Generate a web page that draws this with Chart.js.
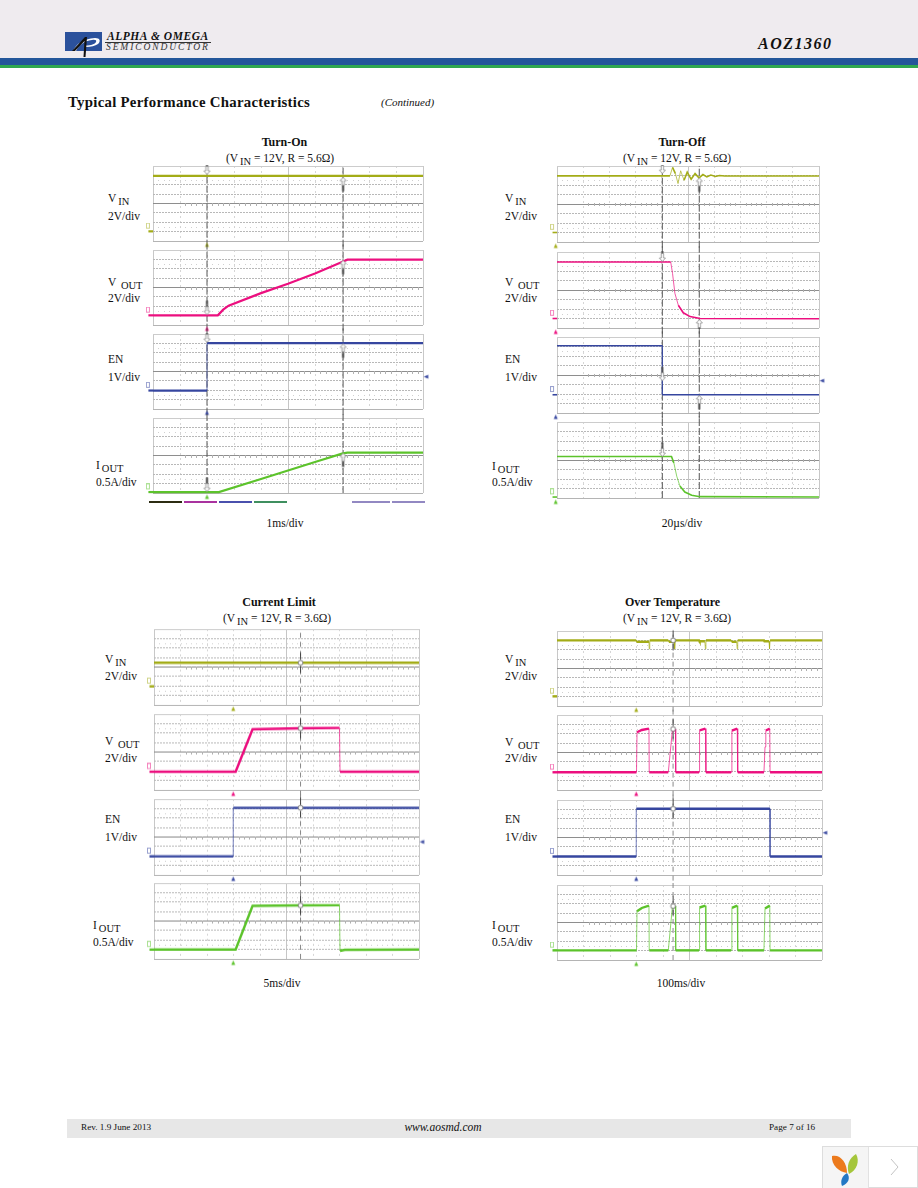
<!DOCTYPE html>
<html>
<head>
<meta charset="utf-8">
<title>AOZ1360 Typical Performance Characteristics</title>
<script src="https://cdn.jsdelivr.net/npm/chart.js@4"></script>
<style>
html, body { margin: 0; padding: 0; background: #fff; }
#page { position: relative; width: 918px; height: 1188px; overflow: hidden; font-family: "Liberation Serif", serif; color: #111; }
#page canvas { position: absolute; }
.band { position: absolute; }
.t { position: absolute; white-space: nowrap; line-height: 1; font-size: 11.5px; margin-top: 1px; transform: translateY(-50%); }
.c { transform: translate(-50%, -50%); }
.t sub { font-size: 10.5px; line-height: 0; vertical-align: baseline; position: relative; top: 3px; margin-left: 2px; }
</style>
</head>
<body>
<div id="page">
  <div class="band" style="left:0;top:0;width:918px;height:58px;background:#efebef"></div>
  <div class="band" style="left:0;top:58px;width:918px;height:7px;background:#23569a"></div>
  <div class="band" style="left:0;top:65px;width:918px;height:3px;background:#2fa84f"></div>

  <svg class="band" style="left:65px;top:32px" width="38" height="25" viewBox="0 0 38 25">
    <rect x="0" y="0" width="37" height="19" fill="#2b519c"/>
    <path d="M8 19 C11 12 18 7 30 6 C35 6 36 9 33 12 C30 14 26 15 21 15 L21 13.5 C26 13.5 30 12 31 10 C32 8 30 7.5 27 8 C19 9 14 13 11 19 Z" fill="#fff"/>
    <path d="M7 19 L20 5 L22 5 L20.5 25 L18.5 25 L19.5 9 L10 19 Z" fill="#111"/>
  </svg>
  <div class="band" style="left:105px;top:42px;width:106px;height:1px;background:#333"></div>

  <div class="band" style="left:67px;top:1119px;width:784px;height:19px;background:#e7e7e7"></div>

  <div class="band" style="left:822px;top:1146px;width:96px;height:42px;background:#fff;border:1px solid #ddd;box-sizing:border-box"></div>
  <div class="band" style="left:823px;top:1147px;width:45px;height:41px;background:#f5f5f5;border-right:1px solid #e2e2e2"></div>
  <svg class="band" style="left:830px;top:1153px" width="32" height="34" viewBox="0 0 32 34">
    <path d="M2 3 C10 1 17 9 17 20 C9 19 1 12 2 3 Z" fill="#ec7a1c"/>
    <path d="M26 1 C30 8 27 17 19 21 C16 13 19 5 26 1 Z" fill="#a5c63b"/>
    <path d="M17 20 C21 25 18 31 12 33 C10 28 12 23 17 20 Z" fill="#2378c4"/>
  </svg>
  <svg class="band" style="left:889px;top:1158px" width="12" height="18" viewBox="0 0 12 18">
    <path d="M2 1 L9 9 L2 17" fill="none" stroke="#c4c4c4" stroke-width="1"/>
  </svg>
</div>

<script>
Chart.defaults.animation = false;

// ---------- trace values, [x, y] read in scope divisions (x 0-10, y 0-8 from the bottom) ----------

// Turn-On
const turnOnVin = [[0, 6.95], [10, 6.95]];
const turnOnVout = [[0, 1.03], [2.4, 1.03], [2.6, 1.64], [2.8, 2.06], [4, 3.4], [5, 4.4], [6, 5.5], [7, 6.72], [7.2, 6.97], [10, 6.97]];
const turnOnEn = [[0, 1.97], [2, 1.97], [2, 7.03], [10, 7.03]];
const turnOnIout = [[0, 0.1], [2.44, 0.1], [4, 1.5], [5, 2.4], [6, 3.3], [7, 4.2], [7.2, 4.3], [10, 4.3]];

// Turn-Off
const turnOffVin = [[0, 6.96], [4.31, 6.96], [4.41, 7.85], [4.52, 7.2], [4.62, 6.15], [4.72, 7.5], [4.85, 6.5], [4.97, 7.35], [5.12, 6.6], [5.27, 7.2], [5.42, 6.75], [5.57, 7.1], [5.72, 6.85], [5.87, 7.05], [6.05, 6.9], [6.2, 7], [6.4, 6.95], [10, 6.95]];
const turnOffVout = [[0, 6.95], [4.34, 6.95], [4.41, 5.75], [4.5, 3.65], [4.63, 2.4], [4.82, 1.6], [5.08, 1.2], [5.46, 1], [10, 0.98]];
const turnOffEn = [[0, 7.08], [4.02, 7.08], [4.02, 1.92], [10, 1.92]];
const turnOffIout = [[0, 4.37], [4.37, 4.37], [4.46, 3.7], [4.57, 2.3], [4.69, 1.26], [4.88, 0.63], [5.14, 0.28], [5.46, 0.14], [10, 0.1]];

// Current Limit
const limitVin = [[0, 4.45], [10, 4.45]];
const limitVout = [[0, 1.92], [3.08, 1.92], [3.72, 6.4], [5.53, 6.5], [7, 6.55], [7.02, 1.92], [10, 1.92]];
const limitEn = [[0, 1.96], [2.99, 1.96], [2.99, 7.08], [10, 7.08]];
const limitIout = [[0, 0.98], [3.08, 0.98], [3.72, 5.6], [5.53, 5.65], [7, 5.67], [7.02, 0.85], [7.2, 0.96], [10, 0.98]];

// Over Temperature
const overVin = [[0, 7], [2.99, 7], [3, 6.85], [3.47, 6.85], [3.48, 6.1], [3.5, 7], [4.2, 7], [4.22, 6.85], [4.42, 6.85], [4.44, 6.1], [4.46, 7], [5.36, 7], [5.38, 6.9], [5.58, 6.9], [5.6, 6.1], [5.62, 7], [6.57, 7], [6.59, 6.85], [6.78, 6.85], [6.8, 6.1], [6.82, 7], [7.81, 7], [7.83, 6.9], [8, 6.9], [8.02, 6.1], [8.04, 7], [10, 7]];
const overVout = [[0, 1.89], [3, 1.89], [3.02, 6.16], [3.2, 6.4], [3.47, 6.55], [3.48, 1.89], [4.2, 1.89], [4.35, 6.26], [4.47, 6.5], [4.48, 1.89], [5.36, 1.89], [5.38, 6.37], [5.6, 6.55], [5.62, 1.89], [6.57, 1.89], [6.6, 6.33], [6.8, 6.55], [6.82, 1.89], [7.81, 1.89], [7.85, 4.6], [7.88, 6.35], [8.03, 6.55], [8.04, 1.89], [10, 1.89]];
const overEn = [[0, 1.97], [2.99, 1.97], [2.99, 7.06], [8.04, 7.06], [8.04, 1.97], [10, 1.97]];
const overIout = [[0, 1.03], [3, 1.03], [3.02, 5.2], [3.2, 5.55], [3.47, 5.8], [3.48, 1.03], [4.2, 1.03], [4.35, 5.55], [4.47, 5.75], [4.48, 1.03], [5.36, 1.03], [5.38, 5.6], [5.6, 5.8], [5.62, 1.03], [6.57, 1.03], [6.6, 5.55], [6.8, 5.8], [6.82, 1.03], [7.81, 1.03], [7.85, 5.5], [8.03, 5.8], [8.04, 1.03], [10, 1.03]];

// cursor columns, in divisions
const turnOnCursors = [2, 7.04];
const turnOffCursors = [4.02, 5.43];
const limitCursors = [5.53];
const overCursors = [4.38];

// cursor readouts: [up arrows, down arrows, rings] on each trace
const turnOnVinMarks = [[[7.04, 6.8]], [[2, 7.1]], []];
const turnOnVoutMarks = [[[7.04, 6.9]], [[2, 1.1]], []];
const turnOnEnMarks = [[[7.04, 6.95]], [[2, 7.1]], []];
const turnOnIoutMarks = [[[7.04, 4.25]], [[2, 0.15]], []];
const turnOffVinMarks = [[[5.43, 6.75]], [[4.02, 7.2]], []];
const turnOffVoutMarks = [[[5.43, 0.9]], [[4.02, 7]], []];
const turnOffEnMarks = [[[5.43, 1.85]], [[4.02, 3.4]], []];
const turnOffIoutMarks = [[], [[4.02, 4.37]], []];
const limitVinMarks = [[], [], [[5.53, 4.45]]];
const limitVoutMarks = [[], [], [[5.53, 6.5]]];
const limitEnMarks = [[], [], [[5.53, 7.08]]];
const limitIoutMarks = [[], [], [[5.53, 5.65]]];
const overVinMarks = [[], [], [[4.38, 7]]];
const overVoutMarks = [[], [], [[4.38, 6.5]]];
const overEnMarks = [[], [], [[4.38, 7.06]]];
const overIoutMarks = [[], [], [[4.38, 5.75]]];

// ---------- styles and where each screen goes ----------

const VIN_COLOR = '#a3ac17', VOUT_COLOR = '#ec0f7f', EN_COLOR = '#36469f', IOUT_COLOR = '#5cc32b';
const PAD = { left: 18, right: 10, top: 10, bottom: 10 };

const turnOnBox = { left: 153, right: 423, tops: [166, 250, 334, 418], h: 75, line: 2.2, cursor: '#555', dash: [7, 2], trig: 2 };
const turnOffBox = { left: 557, right: 819, tops: [166, 252, 337, 422], h: 76, line: 1.6, cursor: '#555', dash: [7, 2], trig: -0.05 };
const limitBox = { left: 154, right: 419, tops: [629, 714, 799, 883], h: 75.5, line: 2.4, cursor: '#888', dash: [5, 4], trig: 2.99 };
const overBox = { left: 557, right: 822, tops: [631, 715, 800, 885], h: 75, line: 2.4, cursor: '#888', dash: [5, 4], trig: 2.99 };

// screens: box, slot, trace, colour, ground level, marks, right marker level, cursors
const screens = [
  [turnOnBox, 0, turnOnVin, VIN_COLOR, 1.03, turnOnVinMarks, null, turnOnCursors],
  [turnOnBox, 1, turnOnVout, VOUT_COLOR, 1.03, turnOnVoutMarks, null, turnOnCursors],
  [turnOnBox, 2, turnOnEn, EN_COLOR, 1.97, turnOnEnMarks, 3.44, turnOnCursors],
  [turnOnBox, 3, turnOnIout, IOUT_COLOR, 0.1, turnOnIoutMarks, null, turnOnCursors],
  [turnOffBox, 0, turnOffVin, VIN_COLOR, 1, turnOffVinMarks, null, turnOffCursors],
  [turnOffBox, 1, turnOffVout, VOUT_COLOR, 1, turnOffVoutMarks, null, turnOffCursors],
  [turnOffBox, 2, turnOffEn, EN_COLOR, 1.92, turnOffEnMarks, 3.4, turnOffCursors],
  [turnOffBox, 3, turnOffIout, IOUT_COLOR, 0.1, turnOffIoutMarks, null, turnOffCursors],
  [limitBox, 0, limitVin, VIN_COLOR, 1.96, limitVinMarks, null, limitCursors],
  [limitBox, 1, limitVout, VOUT_COLOR, 1.92, limitVoutMarks, null, limitCursors],
  [limitBox, 2, limitEn, EN_COLOR, 1.96, limitEnMarks, 3.49, limitCursors],
  [limitBox, 3, limitIout, IOUT_COLOR, 0.98, limitIoutMarks, null, limitCursors],
  [overBox, 0, overVin, VIN_COLOR, 1.03, overVinMarks, null, overCursors],
  [overBox, 1, overVout, VOUT_COLOR, 1.89, overVoutMarks, null, overCursors],
  [overBox, 2, overEn, EN_COLOR, 1.97, overEnMarks, 4.5, overCursors],
  [overBox, 3, overIout, IOUT_COLOR, 1.03, overIoutMarks, null, overCursors]
];

// ---------- page text ----------

const IN = 'V<sub>IN</sub>', OUT = 'V<sub>&nbsp;OUT</sub>', I_OUT = 'I<sub>OUT</sub>';
const pageTexts = [
  // x, y, html, css, centred
  [68, 101, 'Typical Performance Characteristics', 'font-size:15px;letter-spacing:0.28px;font-weight:bold;transform:translateY(-50%) scaleX(0.987);transform-origin:left'],
  [381, 101, '(Continued)', 'font-size:11px;font-style:italic'],
  [758, 43, 'AOZ1360', 'font-size:16px;font-weight:bold;font-style:italic;letter-spacing:1.5px'],
  [107, 36, 'ALPHA &amp; OMEGA', 'font-size:11.5px;font-weight:bold;font-style:italic;letter-spacing:0.55px'],
  [106, 47, 'SEMICONDUCTOR', 'font-size:9.5px;font-style:italic;letter-spacing:1.9px;color:#333'],
  [81, 1127, 'Rev. 1.9 June 2013', 'font-size:9.2px'],
  [443, 1127, 'www.aosmd.com', 'font-size:11.5px;font-style:italic', true],
  [769, 1127, 'Page 7 of 16', 'font-size:9.2px'],

  [284.5, 141, 'Turn-On', 'font-weight:bold;font-size:12px', true],
  [280, 158, '(V<sub>IN</sub> = 12V, R = 5.6&#937;)', '', true],
  [682, 141, 'Turn-Off', 'font-weight:bold;font-size:12px', true],
  [677, 158, '(V<sub>IN</sub> = 12V, R = 5.6&#937;)', '', true],
  [279, 601, 'Current Limit', 'font-weight:bold;font-size:12px', true],
  [277, 618, '(V<sub>IN</sub> = 12V, R = 3.6&#937;)', '', true],
  [672.5, 601, 'Over Temperature', 'font-weight:bold;font-size:12px', true],
  [677, 618, '(V<sub>IN</sub> = 12V, R = 3.6&#937;)', '', true],

  [108, 198, IN], [108, 216, '2V/div'], [108, 282, OUT], [108, 298, '2V/div'],
  [108, 359, 'EN'], [108, 377, '1V/div'], [96, 465, I_OUT], [96, 482, '0.5A/div'],
  [285, 523, '1ms/div', '', true],

  [505, 198, IN], [505, 216, '2V/div'], [505, 282, OUT], [505, 298, '2V/div'],
  [505, 359, 'EN'], [505, 377, '1V/div'], [492, 466, I_OUT], [492, 482, '0.5A/div'],
  [682, 523, '20&micro;s/div', '', true],

  [105, 659, IN], [105, 676, '2V/div'], [105, 741, OUT], [105, 758, '2V/div'],
  [105, 819, 'EN'], [105, 837, '1V/div'], [93, 925, I_OUT], [93, 942, '0.5A/div'],
  [282, 983, '5ms/div', '', true],

  [505, 659, IN], [505, 676, '2V/div'], [505, 742, OUT], [505, 758, '2V/div'],
  [505, 819, 'EN'], [505, 837, '1V/div'], [492, 925, I_OUT], [492, 942, '0.5A/div'],
  [681, 983, '100ms/div', '', true]
];

// scope softkey bars under the first screen: left, right, colour
const softKeys = [
  [149, 182, '#2c2c12'], [184, 217, '#a9329f'], [219, 252, '#4a50ad'], [254, 287, '#3f8f5f'],
  [352, 390, '#9288c2'], [392, 425, '#9288c2']
];

const page = document.getElementById('page');

pageTexts.forEach(([x, y, html, css, centred]) => {
  const el = document.createElement('div');
  el.className = centred ? 't c' : 't';
  el.style.cssText = 'left:' + x + 'px;top:' + y + 'px;' + (css || '');
  el.innerHTML = html;
  page.appendChild(el);
});

softKeys.forEach(([l, r, color]) => {
  const el = document.createElement('div');
  el.className = 'band';
  el.style.cssText = 'left:' + l + 'px;top:501px;width:' + (r - l) + 'px;height:2px;background:' + color;
  page.appendChild(el);
});

// ---------- little marker pictures used as point styles ----------

function sprite(w, h, draw) {
  const c = document.createElement('canvas');
  c.width = w;
  c.height = h;
  draw(c.getContext('2d'), w / 2, h / 2);
  return c;
}

function arrowSprite(dir) {
  return sprite(11, 41, (g, cx, cy) => {
    g.translate(cx, cy);
    g.scale(1, dir);
    g.fillStyle = '#555';
    g.fillRect(-1, 7, 2, 7);
    g.beginPath();
    g.moveTo(0, 0);
    g.lineTo(3, 3.5);
    g.lineTo(1.2, 3.5);
    g.lineTo(1.2, 8);
    g.lineTo(-1.2, 8);
    g.lineTo(-1.2, 3.5);
    g.lineTo(-3, 3.5);
    g.closePath();
    g.fillStyle = '#fff';
    g.fill();
    g.strokeStyle = '#8a8a8a';
    g.lineWidth = 0.8;
    g.stroke();
  });
}

const ringSprite = sprite(11, 33, (g, cx, cy) => {
  g.fillStyle = '#444';
  g.fillRect(cx - 0.5, cy - 10, 1, 7);
  g.fillRect(cx - 0.5, cy + 3, 1, 7);
  g.beginPath();
  g.arc(cx, cy, 2.4, 0, Math.PI * 2);
  g.fillStyle = '#fff';
  g.fill();
  g.strokeStyle = '#777';
  g.lineWidth = 1;
  g.stroke();
});

function triangleSprite(color, rotate) {
  return sprite(7, 7, (g, cx, cy) => {
    g.translate(cx, cy);
    g.rotate(rotate);
    g.beginPath();
    g.moveTo(0, -2.5);
    g.lineTo(2, 2);
    g.lineTo(-2, 2);
    g.closePath();
    g.fillStyle = color;
    g.fill();
  });
}

function groundSprite(color) {
  return sprite(5, 7, (g) => {
    g.globalAlpha = 0.5;
    g.strokeStyle = color;
    g.strokeRect(0.5, 0.5, 3, 5);
  });
}

const upArrow = arrowSprite(1);
const downArrow = arrowSprite(-1);

// ---------- plugin for the scope's minor graticule ----------

const graticule = {
  id: 'graticule',
  beforeDatasetsDraw(chart) {
    const g = chart.ctx, x = chart.scales.x, y = chart.scales.y;
    g.save();
    g.strokeStyle = '#b0b0b0';
    g.lineWidth = 1;
    const mid = Math.round(y.getPixelForValue(4)) + 0.5;
    for (let i = 5; i < 50; i++) {
      if (i % 5 === 0) continue;
      const px = Math.round(x.getPixelForValue(i / 5)) + 0.5;
      g.beginPath();
      g.moveTo(px, mid - 1.5);
      g.lineTo(px, mid + 1.5);
      g.stroke();
    }
    g.fillStyle = '#d0d0d0';
    [1.5, 6.5].forEach(row => {
      const py = Math.round(y.getPixelForValue(row));
      for (let i = 1; i < 50; i++) {
        g.fillRect(Math.round(x.getPixelForValue(i / 5)), py, 1, 1);
      }
    });
    g.restore();
  }
};

// ---------- one Chart.js chart per scope screen ----------

function toPoints(pairs) {
  return pairs.map(p => ({ x: p[0], y: p[1] }));
}

function markerSet(points, image, order, clip) {
  return {
    data: toPoints(points),
    showLine: false,
    pointStyle: image,
    pointRadius: 22,      // only keeps points outside the plot area from being skipped
    pointBorderWidth: 0,
    clip: clip === undefined ? false : clip,
    order: order
  };
}

function fadeSteep(ctx) {
  const dx = Math.abs(ctx.p1.parsed.x - ctx.p0.parsed.x);
  const dy = Math.abs(ctx.p1.parsed.y - ctx.p0.parsed.y);
  return dy > 7.5 * dx;
}

screens.forEach(([box, slot, trace, color, ground, marks, rightMark, cursors]) => {
  const canvas = document.createElement('canvas');
  const w = box.right - box.left + PAD.left + PAD.right;
  const h = box.h + PAD.top + PAD.bottom;
  canvas.width = w;
  canvas.height = h;
  canvas.style.cssText = 'left:' + (box.left - PAD.left) + 'px;top:' + (box.tops[slot] - PAD.top) + 'px;width:' + w + 'px;height:' + h + 'px';
  page.appendChild(canvas);

  const datasets = [];

  // cursors carry on through the gaps between screens, not past the first or last one
  const cursorTop = slot === 0 ? 8 : 8.6;
  const cursorBottom = slot === 3 ? 0 : -0.6;
  cursors.forEach(cx => {
    datasets.push({
      data: toPoints([[cx, cursorBottom], [cx, cursorTop]]),
      borderColor: box.cursor,
      borderWidth: 1,
      borderDash: box.dash,
      pointRadius: 0,
      clip: false,
      order: 5
    });
  });

  // ground tick left of the screen, same level as the trace's zero
  datasets.push({
    data: toPoints([[-0.17, ground], [0, ground]]),
    borderColor: color,
    borderWidth: box.line,
    pointRadius: 0,
    clip: false,
    order: 3
  });
  datasets.push(markerSet([[-0.17, ground + 0.55]], groundSprite(color), 3));
  datasets.push(markerSet([[box.trig, -0.42]], triangleSprite(color, 0), 3));
  if (rightMark !== null) {
    datasets.push(markerSet([[10.12, rightMark]], triangleSprite(color, -Math.PI / 2), 3));
  }

  datasets.push({
    data: toPoints(trace),
    borderColor: color,
    borderWidth: box.line,
    pointRadius: 0,
    tension: 0,
    clip: 3,
    order: 2,
    segment: {
      borderWidth: ctx => fadeSteep(ctx) ? 1 : box.line,
      borderColor: ctx => fadeSteep(ctx) ? color + 'b0' : color
    }
  });

  // arrows stay inside their screen, the rings may poke out a little
  datasets.push(markerSet(marks[0], upArrow, 1, 1));
  datasets.push(markerSet(marks[1], downArrow, 1, 1));
  datasets.push(markerSet(marks[2], ringSprite, 1));

  new Chart(canvas, {
    type: 'line',
    data: { datasets: datasets },
    plugins: [graticule],
    options: {
      responsive: false,
      devicePixelRatio: 1,
      layout: { padding: PAD, autoPadding: false },
      plugins: { legend: { display: false }, title: { display: false }, tooltip: { enabled: false } },
      events: [],
      scales: {
        x: {
          type: 'linear',
          min: 0,
          max: 10,
          ticks: { stepSize: 1, display: false },
          border: {
            display: false,
            dash: ctx => (ctx.tick.value === 0 || ctx.tick.value === 5 || ctx.tick.value === 10) ? [] : [2, 3]
          },
          grid: {
            drawTicks: false,
            lineWidth: 1,
            color: ctx => (ctx.tick.value === 0 || ctx.tick.value === 10) ? '#c8c8c8' : (ctx.tick.value === 5 ? '#c6c6c6' : '#d6d6d6')
          }
        },
        y: {
          type: 'linear',
          min: 0,
          max: 8,
          ticks: { stepSize: 1, display: false },
          border: {
            display: false,
            dash: ctx => (ctx.tick.value === 0 || ctx.tick.value === 4 || ctx.tick.value === 8) ? [] : [2, 1]
          },
          grid: {
            drawTicks: false,
            lineWidth: 1,
            color: ctx => {
              if (ctx.tick.value === 0) return '#b4b4b4';
              if (ctx.tick.value === 8) return '#cccccc';
              if (ctx.tick.value === 4) return '#8e8e8e';
              return '#b8b8b8';
            }
          }
        }
      }
    }
  });
});
</script>
</body>
</html>
